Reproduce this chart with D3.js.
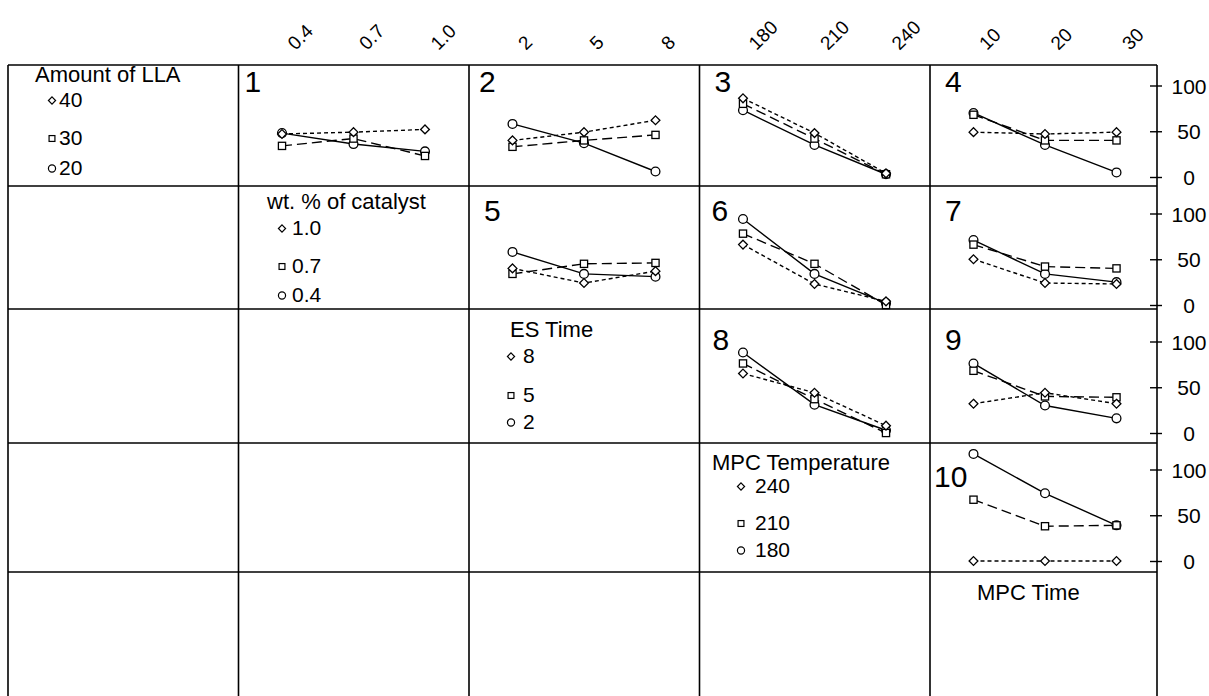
<!DOCTYPE html>
<html>
<head>
<meta charset="utf-8">
<script src="https://cdn.jsdelivr.net/npm/d3@7"></script>
<style>
  body { margin: 0; background: #fff; }
  svg { display: block; }
  text { font-family: "Liberation Sans", Arial, Helvetica, sans-serif; fill: #000; }
</style>
</head>
<body>
<svg id="chart" width="1209" height="696"></svg>
<script>
// ---- factor levels (legend order: diamond, square, circle) ----
const llaLevels = ["40", "30", "20"];
const catalystLevels = ["1.0", "0.7", "0.4"];
const esTimeLevels = ["8", "5", "2"];
const mpcTempLevels = ["240", "210", "180"];

// ---- x-axis tick labels for each column factor ----
const catalystTicks = ["0.4", "0.7", "1.0"];
const esTimeTicks = ["2", "5", "8"];
const mpcTempTicks = ["180", "210", "240"];
const mpcTimeTicks = ["10", "20", "30"];

// ---- y-axis ticks ----
const yTicks = [0, 50, 100];

// ---- mean responses; each panel: [diamond series, square series, circle series] ----
const panel1 = [[47, 49, 52], [34, 42, 23], [48, 36, 28]];   // LLA x catalyst
const panel2 = [[40, 49, 62], [33, 40, 46], [58, 37, 6]];    // LLA x ES time
const panel3 = [[86, 48, 4], [80, 42, 3], [73, 35, 3]];      // LLA x MPC temp
const panel4 = [[49, 47, 49], [68, 40, 40], [70, 35, 5]];    // LLA x MPC time
const panel5 = [[40, 24, 37], [34, 45, 46], [58, 34, 31]];   // catalyst x ES time
const panel6 = [[66, 23, 4], [78, 45, 0], [94, 34, 2]];      // catalyst x MPC temp
const panel7 = [[50, 24, 23], [66, 42, 40], [71, 34, 25]];   // catalyst x MPC time
const panel8 = [[65, 44, 8], [76, 37, 0], [88, 31, 3]];      // ES time x MPC temp
const panel9 = [[32, 44, 32], [68, 40, 39], [76, 30, 16]];   // ES time x MPC time
const panel10 = [[0, 0, 0], [67, 38, 39], [117, 74, 39]];    // MPC temp x MPC time

const factorTitles = ["Amount of LLA", "wt. % of catalyst", "ES Time", "MPC Temperature", "MPC Time"];
const legendLevels = [llaLevels, catalystLevels, esTimeLevels, mpcTempLevels];
const columnTicks = [null, catalystTicks, esTimeTicks, mpcTempTicks, mpcTimeTicks];

// ---- layout ----
const colEdges = [8, 238.5, 469, 699.5, 930, 1157];
const rowEdges = [65, 186, 309, 443, 572, 702];
const zeroY = r => 177 + 128 * r;       // y of value 0 in row r
const unitPx = 0.915;                    // px per unit of response
const ptInset = [43.5, 186.5];           // first/last level position inside a column

const panels = [
  { label: "1", row: 0, col: 1, values: panel1, dx: 6 },
  { label: "2", row: 0, col: 2, values: panel2, dx: 10 },
  { label: "3", row: 0, col: 3, values: panel3, dx: 15 },
  { label: "4", row: 0, col: 4, values: panel4, dx: 15 },
  { label: "5", row: 1, col: 2, values: panel5, dx: 15 },
  { label: "6", row: 1, col: 3, values: panel6, dx: 12 },
  { label: "7", row: 1, col: 4, values: panel7, dx: 15 },
  { label: "8", row: 2, col: 3, values: panel8, dx: 13 },
  { label: "9", row: 2, col: 4, values: panel9, dx: 15 },
  { label: "10", row: 3, col: 4, values: panel10, dx: 4 }
];
const numberBaseline = [92, 221, 350, 487];

const seriesStyle = [
  { shape: "diamond", dash: "4,3" },
  { shape: "square", dash: "10,5" },
  { shape: "circle", dash: null }
];

const legendPos = [
  { tx: 35,  ty: 82,  mx: 52,  lx: 59,  items: [107, 145, 175] },
  { tx: 267, ty: 209, mx: 282, lx: 292, items: [235, 273, 302] },
  { tx: 510, ty: 337, mx: 511, lx: 523, items: [363, 402, 429] },
  { tx: 712, ty: 470, mx: 741, lx: 755, items: [493, 530, 557] }
];

const svg = d3.select("#chart");

// scales
const xScales = columnTicks.map((ticks, c) => ticks
  ? d3.scalePoint().domain(ticks).range([colEdges[c] + ptInset[0], colEdges[c] + ptInset[1]])
  : null);
const yScales = [0, 1, 2, 3].map(r =>
  d3.scaleLinear().domain([0, 100]).range([zeroY(r), zeroY(r) - 100 * unitPx]));

// marker drawing
function marker(g, shape, x, y, s) {
  if (shape === "circle") {
    g.append("circle").attr("cx", x).attr("cy", y).attr("r", s * 0.55);
  } else if (shape === "square") {
    const h = s * 0.45;
    g.append("rect").attr("x", x - h).attr("y", y - h).attr("width", 2 * h).attr("height", 2 * h);
  } else {
    const h = s * 0.55;
    g.append("path").attr("d", `M${x},${y - h}L${x + h},${y}L${x},${y + h}L${x - h},${y}Z`);
  }
}

// grid
const grid = svg.append("g").attr("stroke", "#000").attr("stroke-width", 1.6);
rowEdges.forEach(y => grid.append("line")
  .attr("x1", colEdges[0]).attr("x2", colEdges[5]).attr("y1", y).attr("y2", y));
colEdges.forEach(x => grid.append("line")
  .attr("x1", x).attr("x2", x).attr("y1", rowEdges[0]).attr("y2", 702));

// top axes (rotated level labels)
for (let c = 1; c <= 4; c++) {
  const ax = svg.append("g").attr("transform", "translate(0,51)")
    .call(d3.axisTop(xScales[c]).tickSize(0).tickPadding(0));
  ax.select(".domain").remove();
  ax.selectAll("text")
    .attr("x", 0).attr("y", 0).attr("dy", null)
    .attr("text-anchor", "start")
    .attr("transform", "translate(13,0) rotate(-45)")
    .style("font-size", "19px")
    .style("font-family", "\"Liberation Sans\", Arial, sans-serif");
}

// right axes
yScales.forEach(y => {
  const ax = svg.append("g").attr("transform", `translate(${colEdges[5]},0)`)
    .call(d3.axisRight(y).tickValues(yTicks).tickSizeInner(5).tickSizeOuter(0).tickPadding(0));
  ax.select(".domain").remove();
  ax.selectAll(".tick line").attr("x1", -7).attr("x2", 5).attr("stroke-width", 1.4);
  ax.selectAll(".tick text")
    .attr("x", 32).attr("dy", "0.36em").attr("text-anchor", "middle")
    .style("font-size", "21px")
    .style("font-family", "\"Liberation Sans\", Arial, sans-serif");
});

// panels
panels.forEach(p => {
  const x = xScales[p.col], y = yScales[p.row];
  const ticks = columnTicks[p.col];
  const g = svg.append("g");
  g.append("text")
    .attr("x", colEdges[p.col] + p.dx).attr("y", numberBaseline[p.row])
    .style("font-size", "30px").text(p.label);

  const line = d3.line().x((d, i) => x(ticks[i])).y(d => y(d));
  // draw circle series first, diamond last
  [2, 1, 0].forEach(si => {
    const st = seriesStyle[si];
    g.append("path").datum(p.values[si])
      .attr("d", line).attr("fill", "none").attr("stroke", "#000")
      .attr("stroke-width", 1.4)
      .attr("stroke-dasharray", st.dash);
  });
  [2, 1, 0].forEach(si => {
    const st = seriesStyle[si];
    const mg = g.append("g").attr("fill", "#fff").attr("stroke", "#000").attr("stroke-width", 1.3);
    p.values[si].forEach((v, i) => marker(mg, st.shape, x(ticks[i]), y(v), 8));
  });
});

// legends on the diagonal
legendLevels.forEach((levels, r) => {
  const lp = legendPos[r];
  const g = svg.append("g");
  g.append("text").attr("x", lp.tx).attr("y", lp.ty).style("font-size", "22px").text(factorTitles[r]);
  levels.forEach((lev, i) => {
    const by = lp.items[i];
    const mg = g.append("g").attr("fill", "#fff").attr("stroke", "#000").attr("stroke-width", 1.2);
    marker(mg, seriesStyle[i].shape, lp.mx, by - 6.5, 6.5);
    g.append("text").attr("x", lp.lx).attr("y", by).style("font-size", "21px").text(lev);
  });
});

// last diagonal cell title
svg.append("text").attr("x", 977).attr("y", 600).style("font-size", "22px").text(factorTitles[4]);
</script>
</body>
</html>
